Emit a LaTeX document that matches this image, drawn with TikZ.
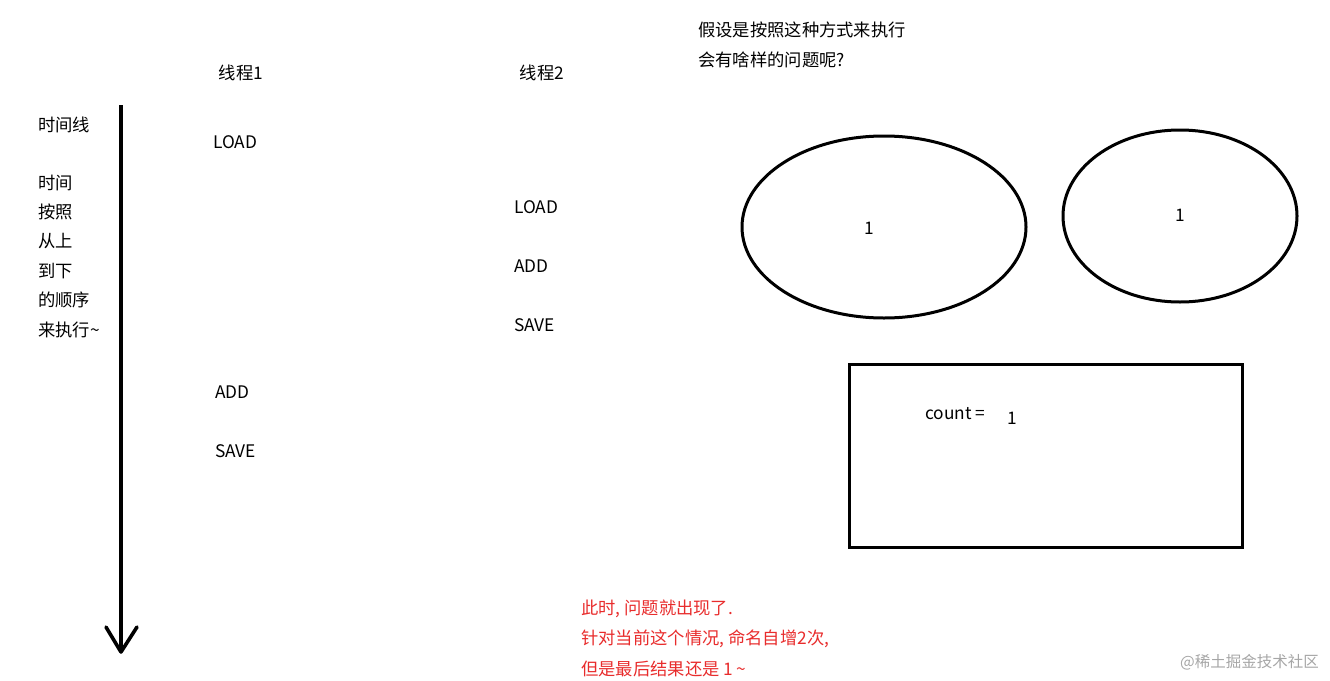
\documentclass[tikz,border=0pt]{standalone}
\usepackage{fontspec}
\setmainfont{Noto Sans CJK SC}
\usetikzlibrary{positioning}
\definecolor{notered}{RGB}{232,44,44}

\begin{document}
\begin{tikzpicture}[x=1pt, y=-1pt, >=latex,
    every node/.style={font=\fontsize{17.3}{20}\selectfont, inner sep=0pt},
    lbl/.style={anchor=west},
    thick line/.style={line width=3.6pt}]
  \useasboundingbox (0,0) rectangle (1330,680);

  % thread titles
  \node (t1) at (241,73) {线程1};
  \node (t2) at (542,73) {线程2};

  % time line
  \coordinate (tltop) at (121,105);
  \coordinate (tlend) at (121,652);
  \draw[thick line] (tltop) -- (tlend);
  \draw[thick line, line cap=round, line join=round] (106,627) -- (tlend) -- (137,627);

  \node[lbl] (tl0) at (38,125) {时间线};
  \node[lbl] (tl1) at (38,183) {时间};
  \node[lbl] (tl2) at (38,212) {按照};
  \node[lbl] (tl3) at (38,241) {从上};
  \node[lbl] (tl4) at (38,271) {到下};
  \node[lbl] (tl5) at (38,300) {的顺序};
  \node[lbl] (tl6) at (38,330) {来执行\textasciitilde};

  % thread 1 steps
  \node[lbl] (a1) at (213,142) {LOAD};
  \node[lbl] (a2) at (215,392) {ADD};
  \node[lbl] (a3) at (215,451) {SAVE};

  % thread 2 steps
  \node[lbl] (b1) at (514,207) {LOAD};
  \node[lbl] (b2) at (514,266) {ADD};
  \node[lbl] (b3) at (514,325) {SAVE};

  % question
  \node[lbl] (q1) at (698,30) {假设是按照这种方式来执行};
  \node[lbl] (q2) at (698,60) {会有啥样的问题呢?};

  % registers
  \draw[line width=3pt] (884,227) ellipse [x radius=142, y radius=91];
  \node (r1) at (869,228) {1};
  \draw[line width=3pt] (1180,216) ellipse [x radius=117, y radius=86];
  \node (r2) at (1180,215) {1};

  % memory
  \draw[line width=3pt] (849,364) rectangle (1242,547);
  \node[lbl] (cnt) at (925,414) {count =};
  \node (cv) at (1012,418) {1};

  % conclusion
  \begin{scope}[every node/.append style={text=notered, anchor=west}]
    \node (c1) at (581,609) {此时, 问题就出现了.};
    \node (c2) at (581,639) {针对当前这个情况, 命名自增2次,};
    \node (c3) at (581,669) {但是最后结果还是 1 \textasciitilde};
  \end{scope}

  \node[text=black!35, anchor=west, font=\fontsize{15.5}{18}\selectfont] (wm) at (1180,662) {@稀土掘金技术社区};
\end{tikzpicture}
\end{document}
